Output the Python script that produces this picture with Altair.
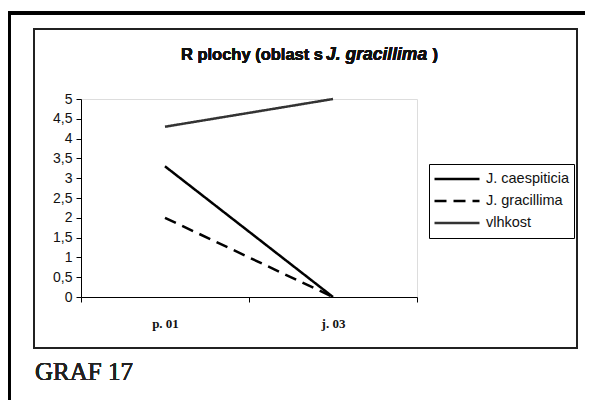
import altair as alt
import pandas as pd

categories = ["p. 01", "j. 03"]
series_names = ["J. caespiticia", "J. gracillima", "vlhkost"]
caespiticia = [3.3, 0.0]
gracillima = [2.0, 0.0]
vlhkost = [4.3, 5.0]
y_ticks = [0, 0.5, 1, 1.5, 2, 2.5, 3, 3.5, 4, 4.5, 5]

rows = []
for name, vals in zip(series_names, [caespiticia, gracillima, vlhkost]):
    for c, v in zip(categories, vals):
        rows.append({"obdobi": c, "serie": name, "hodnota": v})
df = pd.DataFrame(rows)

W, H = 336, 198
PL, PT = 73, 91
PR = 593 - 8 - (81 + W)
PB = 408 - 8 - (99 + H)

base = alt.Chart(df)

lines = base.mark_line(clip=False).encode(
    x=alt.X("obdobi:N", sort=categories, bandPosition=0.5,
            scale=alt.Scale(type="band", paddingInner=0, paddingOuter=0),
            axis=alt.Axis(title=None, tickBand="extent", labelAngle=0,
                          labelFont="Liberation Serif", labelFontWeight="bold",
                          labelFontSize=13, labelPadding=15, tickSize=5,
                          labelColor="#111", domainColor="black", tickColor="black")),
    y=alt.Y("hodnota:Q", scale=alt.Scale(domain=[0, 5], nice=False),
            axis=alt.Axis(title=None, values=y_ticks, grid=False, tickSize=5,
                          labelExpr="replace(format(datum.value, ''), '.', ',')",
                          labelFont="Liberation Sans", labelFontSize=14,
                          labelPadding=4, labelColor="#111",
                          domainColor="black", tickColor="black")),
    color=alt.Color("serie:N", scale=alt.Scale(domain=series_names,
                    range=["#000000", "#000000", "#333333"]),
                    legend=alt.Legend(title=None, orient="none", legendX=348, legendY=65,
                                      strokeColor="black", padding=4,
                                      symbolType="stroke", symbolSize=2025,
                                      clipHeight=22, rowPadding=0, labelOffset=5,
                                      labelFont="Liberation Sans", labelFontSize=14.5,
                                      labelColor="#111", symbolStrokeWidth=2.5)),
    strokeDash=alt.StrokeDash("serie:N", scale=alt.Scale(domain=series_names,
                              range=[[1, 0], [12, 7], [1, 0]]), legend=None),
    strokeWidth=alt.StrokeWidth("serie:N", scale=alt.Scale(domain=series_names,
                                range=[2.5, 2.5, 1.5]), legend=None),
)

# decorations (scan frames)
outer_top = alt.Chart(df).mark_rule(color="black", strokeWidth=3).encode(
    x=alt.value(-73), x2=alt.value(520), y=alt.value(-86), y2=alt.value(-86))
outer_left = alt.Chart(df).mark_rule(color="black", strokeWidth=3).encode(
    x=alt.value(-72), x2=alt.value(-72), y=alt.value(-86), y2=alt.value(320))
inner = alt.Chart(df).mark_rect(fillOpacity=0, stroke="#222", strokeWidth=1.5).encode(
    x=alt.value(-47), x2=alt.value(496), y=alt.value(-70), y2=alt.value(249))

title_font = "Liberation Sans"
t1 = alt.Chart(df).mark_text(text="R plochy (oblast s", font=title_font, fontSize=16.5,
                             fontWeight="bold", align="right", baseline="alphabetic",
                             color="#111").encode(x=alt.value(242), y=alt.value(-39))
t2 = alt.Chart(df).mark_text(text="J. gracillima", font=title_font, fontSize=17.5,
                             fontWeight="bold", fontStyle="italic", align="left",
                             baseline="alphabetic", color="#111").encode(
    x=alt.value(245), y=alt.value(-39))
t3 = alt.Chart(df).mark_text(text=")", font=title_font, fontSize=16.5,
                             fontWeight="bold", align="right", baseline="alphabetic",
                             color="#111").encode(x=alt.value(357), y=alt.value(-39))
graf = alt.Chart(df).mark_text(text="GRAF 17", font="Liberation Serif", fontSize=25,
                               fontWeight="normal", align="left", baseline="alphabetic",
                               color="#222").encode(x=alt.value(-46), y=alt.value(281))

chart = alt.layer(outer_top, outer_left, inner, lines, t1, t2, t3, graf).properties(
    width=W, height=H,
    padding={"left": PL, "top": PT, "right": PR, "bottom": PB},
    autosize=alt.AutoSizeParams(type="none"),
).configure_view(stroke="black", strokeWidth=1.5).configure(background="white")

chart.save("out.html", embed_options={"renderer": "svg", "actions": False})
